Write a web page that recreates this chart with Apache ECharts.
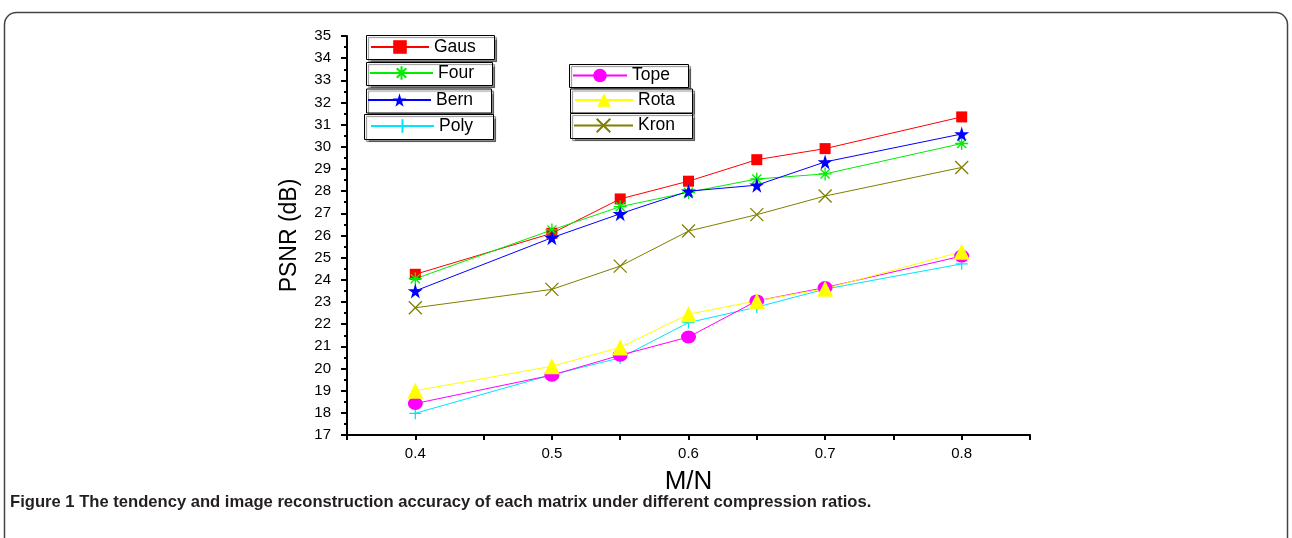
<!DOCTYPE html>
<html><head><meta charset="utf-8">
<script src="https://cdn.jsdelivr.net/npm/echarts@6/dist/echarts.min.js"></script>
<style>html,body{margin:0;padding:0;background:#fff;}#c{width:1292px;height:538px;}</style>
</head><body><div id="c"></div>
<script>
const ratios = [0.4, 0.5, 0.55, 0.6, 0.65, 0.7, 0.8];
const gaus = [24.25, 26.1, 27.65, 28.45, 29.42, 29.92, 31.35];
const four = [24.05, 26.25, 27.3, 27.95, 28.55, 28.78, 30.15];
const bern = [23.5, 25.9, 26.98, 28.0, 28.27, 29.32, 30.58];
const poly = [17.98, 19.72, 20.48, 22.07, 22.77, 23.58, 24.72];
const tope = [18.42, 19.7, 20.6, 21.42, 23.05, 23.65, 25.07];
const rota = [19.0, 20.1, 20.95, 22.45, 23.05, 23.6, 25.27];
const kron = [22.74, 23.57, 24.62, 26.2, 26.94, 27.78, 29.07];
const seriesNames = ['Gaus', 'Four', 'Bern', 'Poly', 'Tope', 'Rota', 'Kron'];
const xLabelsShown = ['0.4', '0.5', '0.6', '0.7', '0.8'];
const yTitle = 'PSNR (dB)';
const xTitle = 'M/N';
const caption = 'Figure 1';
const captionRest = ' The tendency and image reconstruction accuracy of each matrix under different compression ratios.';

const STAR = 'path://M50,0 L61,35 L98,35 L68,57 L79,91 L50,70 L21,91 L32,57 L2,35 L39,35 Z';
const PLUS = 'path://M5,0L5,10M0,5L10,5';
const CROSS = 'path://M0,0L10,10M10,0L0,10';
const ASTER = 'path://M5,0L5,10M0,5L10,5M1.5,1.5L8.5,8.5M8.5,1.5L1.5,8.5';

const values = [gaus, four, bern, poly, tope, rota, kron];
const styles = [
  {color:'#ff0000', symbol:'rect', size:11, stroke:false},
  {color:'#00ee00', symbol:ASTER, size:13, stroke:true},
  {color:'#0000ff', symbol:STAR, size:15, stroke:false},
  {color:'#00e5ff', symbol:PLUS, size:12, stroke:true},
  {color:'#ff00ff', symbol:'circle', size:[15,13], stroke:false},
  {color:'#ffff00', symbol:'triangle', size:16, stroke:false},
  {color:'#808000', symbol:CROSS, size:13, stroke:true}
];

const series = seriesNames.map((n, i) => {
  const s = styles[i];
  return {
    name: n, type: 'line',
    data: ratios.map((x, j) => [x, values[i][j]]),
    symbol: s.symbol, symbolSize: s.size, showAllSymbol: true,
    lineStyle: {color: s.color, width: 1},
    itemStyle: s.stroke ? {color: s.color, borderColor: s.color, borderWidth: 1.3} : {color: s.color, borderWidth: 0},
    emphasis: {disabled: true},
    animation: false
  };
});

// legend layout: [left of icon, vertical center, itemWidth]
const legendPos = [
  [370, 47, 58], [369, 73, 63], [367, 100, 63], [370, 126, 63],
  [572, 75.5, 54], [574, 100, 58], [573, 125.5, 59]
];
const boxes = [
  [366, 35, 128, 24], [366, 62, 126, 23], [366, 88.5, 125, 24], [364, 114, 129, 25],
  [569, 64, 119, 23], [570, 88.5, 122, 24], [570, 113, 122, 25]
];

const legends = seriesNames.map((n, i) => ({
  data: [n], left: legendPos[i][0], top: legendPos[i][1] - 9,
  padding: 0, itemWidth: legendPos[i][2], itemHeight: 17,
  textStyle: {fontSize: 17.5, fontFamily: 'Liberation Sans, Arial', color: '#000', lineHeight: 18},
  selectedMode: false, z: 6
}));

const graphics = boxes.map(b => ({
  type: 'rect', z: 3,
  shape: {x: b[0] + 0.5, y: b[1] + 0.5, width: b[2], height: b[3]},
  style: {fill: '#fff', stroke: '#000', lineWidth: 1, shadowColor: 'rgba(0,0,0,0.45)', shadowOffsetX: 2, shadowOffsetY: 2, shadowBlur: 1}
}));
graphics.push({
  type: 'rect', z: 0, silent: true,
  shape: {x: 4.5, y: 12.5, width: 1283, height: 600, r: 12},
  style: {fill: 'none', stroke: '#444', lineWidth: 1.5}
});
graphics.push({
  type: 'text', left: 10, top: 494, z: 5,
  style: {
    text: '{b|' + caption + '}{n|' + captionRest + '}',
    rich: {
      b: {font: 'bold 16.6px "Liberation Sans", Arial', fill: '#231f20', lineHeight: 16},
      n: {font: 'bold 16.6px "Liberation Sans", Arial', fill: '#231f20', lineHeight: 16}
    }
  }
});

const chart = echarts.init(document.getElementById('c'), null, {renderer: 'canvas'});
chart.setOption({
  animation: false,
  backgroundColor: '#fff',
  grid: {left: 347, right: 262, top: 36, bottom: 103, containLabel: false},
  xAxis: {
    type: 'value', min: 0.35, max: 0.85, interval: 0.05,
    name: xTitle, nameLocation: 'middle', nameGap: 36,
    nameTextStyle: {fontSize: 26, fontFamily: 'Liberation Sans, Arial', color: '#000', lineHeight: 21},
    axisLine: {lineStyle: {color: '#000', width: 2}},
    axisTick: {show: true, length: 5, lineStyle: {color: '#000', width: 2}},
    axisLabel: {
      margin: 11, fontSize: 15, fontFamily: 'Liberation Sans, Arial', color: '#000',
      formatter: v => { const s = (Math.round(v * 100) / 100).toFixed(2); const t = s.replace(/0$/, ''); return xLabelsShown.indexOf(t) >= 0 && s.endsWith('0') ? t : ''; }
    },
    splitLine: {show: false}
  },
  yAxis: {
    type: 'value', min: 17, max: 35, interval: 1,
    name: yTitle, nameLocation: 'middle', nameGap: 46,
    nameTextStyle: {fontSize: 23, fontFamily: 'Liberation Sans, Arial', color: '#000'},
    axisLine: {show: true, lineStyle: {color: '#000', width: 2}},
    axisTick: {show: true, length: 6, lineStyle: {color: '#000', width: 2}},
    minorTick: {show: true, splitNumber: 2, length: 3, lineStyle: {color: '#000', width: 2}},
    axisLabel: {margin: 16, fontSize: 15, fontFamily: 'Liberation Sans, Arial', color: '#000'},
    splitLine: {show: false}, minorSplitLine: {show: false}
  },
  legend: legends,
  graphic: graphics,
  series: series
});
</script></body></html>
